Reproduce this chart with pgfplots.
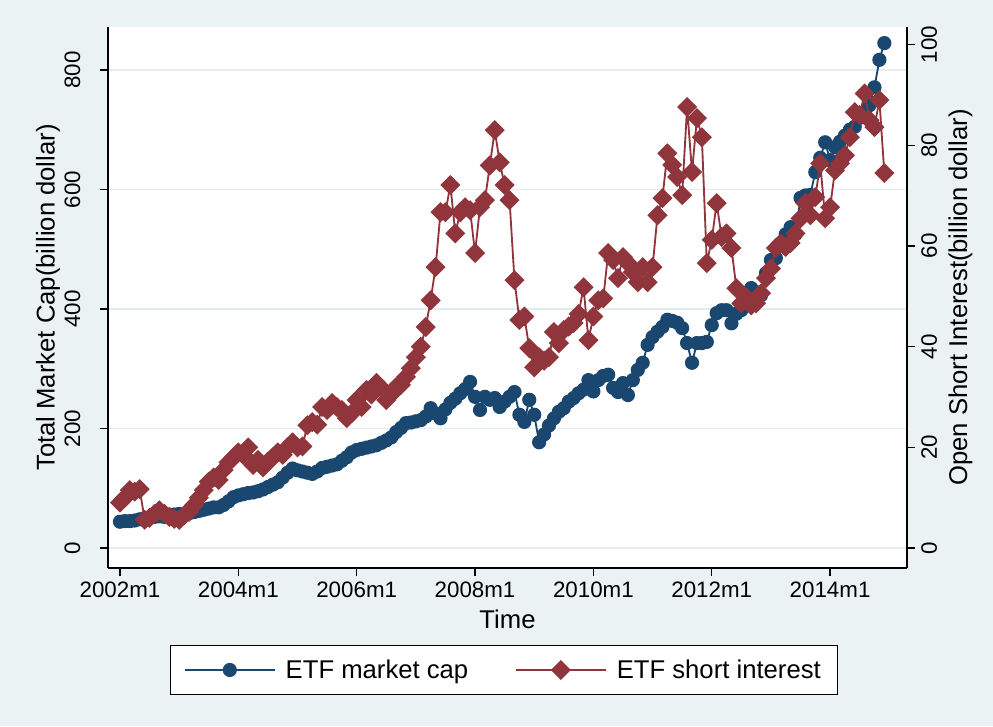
\documentclass[border=0pt]{standalone}
\usepackage{pgfplots}
\pgfplotsset{compat=1.18}
\usepackage{pgfplotstable}
\usepackage{fontspec}
\setmainfont{Liberation Sans}
\definecolor{bgc}{HTML}{EAF2F3}
\definecolor{gridc}{HTML}{E3EDEF}
\definecolor{navy}{HTML}{1A476F}
\definecolor{maroon}{HTML}{90353B}
\newcommand\ticksize{\fontsize{13.4}{15}\selectfont}
\newcommand\titlesize{\fontsize{15.4}{18}\selectfont}

\pgfplotstableread{
m v
0 44
1 45
2 45
3 46
4 48
5 50
6 50
7 52
8 53
9 52
10 55
11 56
12 57
13 56
14 58
15 60
16 62
17 64
18 66
19 68
20 68
21 72
22 78
23 85
24 88
25 90
26 92
27 93
28 95
29 98
30 102
31 106
32 110
33 118
34 126
35 133
36 130
37 128
38 126
39 124
40 128
41 134
42 136
43 138
44 140
45 146
46 152
47 160
48 164
49 166
50 168
51 170
52 172
53 176
54 180
55 185
56 194
57 201
58 209
59 210
60 212
61 214
62 220
63 234
64 225
65 217
66 232
67 243
68 250
69 259
70 266
71 278
72 253
73 231
74 253
75 248
76 251
77 236
78 245
79 253
80 261
81 223
82 211
83 248
84 223
85 177
86 190
87 205
88 217
89 228
90 234
91 245
92 251
93 259
94 265
95 281
96 262
97 281
98 288
99 290
100 268
101 261
102 276
103 256
104 281
105 298
106 310
107 340
108 353
109 362
110 370
111 382
112 380
113 377
114 368
115 343
116 310
117 343
118 343
119 345
120 373
121 393
122 398
123 398
124 376
125 392
126 398
127 420
128 435
129 428
130 423
131 460
132 482
133 485
134 510
135 525
136 537
137 525
138 586
139 590
140 591
141 629
142 653
143 679
144 649
145 671
146 680
147 690
148 700
149 705
150 720
151 730
152 741
153 771
154 817
155 845
}\mcap

\pgfplotstableread{
m v
0 9
1 10
2 11.5
3 11.2
4 11.7
5 5.6
6 6
7 6.8
8 7.5
9 6.8
10 6.2
11 5.8
12 5.6
13 6.5
14 7.2
15 8.5
16 10
17 11.5
18 13.2
19 14
20 13.5
21 15.5
22 17
23 18
24 19
25 18.5
26 20
27 16.5
28 17.5
29 16
30 17.2
31 18
32 19
33 18.5
34 20
35 21
36 20
37 20.2
38 24.4
39 25
40 24.5
41 28
42 27.4
43 28.8
44 28
45 27.4
46 25.8
47 26.8
48 29.4
49 28
50 31.4
51 30.5
52 32.8
53 31.8
54 29.4
55 30.5
56 32
57 32.4
58 34
59 35.7
60 37.9
61 40
62 43.9
63 49.2
64 55.8
65 66.7
66 66.7
67 72.1
68 62.5
69 66.7
70 67.7
71 67.1
72 58.6
73 67.7
74 69.1
75 76
76 83
77 76.6
78 72.1
79 69.1
80 53.2
81 45.3
82 46
83 39.7
84 35.9
85 37.9
86 37.2
87 37.9
88 42.9
89 40.7
90 43.3
91 44
92 44.7
93 46.5
94 51.8
95 41.3
96 46
97 49.2
98 49.6
99 58.6
100 57.2
101 53.6
102 57.8
103 56.6
104 54.8
105 52.8
106 55.8
107 52.8
108 55.8
109 66.1
110 69.5
111 78.4
112 76.1
113 73.7
114 70.1
115 87.6
116 74.7
117 85.4
118 81.6
119 56.6
120 61.2
121 68.5
122 61.8
123 62.5
124 59.6
125 51.6
126 48.6
127 49.8
128 48.2
129 48.6
130 50.6
131 53.6
132 55.5
133 59.6
134 60.5
135 59.8
136 60.6
137 62.5
138 65.5
139 68.5
140 66.1
141 69.7
142 76.4
143 65.5
144 67.7
145 75
146 76.4
147 78
148 81.6
149 86.6
150 86
151 90.3
152 85
153 83.6
154 89
155 74.5
}\sint

\begin{document}
\begin{tikzpicture}
\fill[bgc] (0,0) rectangle (595.8pt,435.6pt);
\useasboundingbox (0,0) rectangle (595.8pt,435.6pt);
\pgfplotsset{
  common/.style={
    at={(64.8pt,94.8pt)}, anchor=south west,
    scale only axis, width=479.4pt, height=324.6pt,
    xmin=-2.43, xmax=159.6,
    axis line style={-, black, line width=0.8pt},
    tick align=outside, major tick length=5pt,
    tick style={black, line width=0.8pt},
    tick label style={font=\ticksize},
    label style={font=\titlesize},
    /pgf/number format/assume math mode=true,
    /pgf/number format/fixed,
  },
}
\begin{axis}[common,
  ymin=-33.47, ymax=871.97,
  axis x line*=bottom, axis y line*=left,
  xtick={0,24,48,72,96,120,144},
  xticklabels={2002m1,2004m1,2006m1,2008m1,2010m1,2012m1,2014m1},
  ytick={0,200,400,600,800},
  ymajorgrids, grid style={gridc, line width=1pt},
  axis background/.style={fill=white},
  yticklabel style={rotate=90, anchor=south},
  yticklabel shift=8pt,
  ylabel shift=-4pt,
  xlabel={Time}, ylabel={Total Market Cap(billion dollar)},
]
\addplot[navy, line width=1.1pt, mark=*, mark size=3.7pt, mark options={fill=navy, draw=navy}] table[x=m, y=v] {\mcap};
\end{axis}
\begin{axis}[common,
  ymin=-3.97, ymax=103.5,
  axis y line*=right, axis x line=none,
  ytick={0,20,40,60,80,100},
  yticklabel style={rotate=90, anchor=north},
  yticklabel shift=0pt,
  ylabel shift=0pt,
  ylabel={Open Short Interest(billion dollar)},
  legend columns=2,
  legend style={at={(0.4956,-0.1885)}, anchor=center, draw=black, line width=0.6pt,
    fill=white, font=\titlesize, inner xsep=8pt, inner ysep=6.5pt,
    /tikz/every odd column/.append style={column sep=4pt},
    /tikz/every even column/.append style={column sep=26pt}},
  legend image code/.code={\draw[mark repeat=2, mark phase=2] plot coordinates {(0pt,0pt) (27pt,0pt) (54pt,0pt)};},
]
\addlegendimage{navy, line width=1.1pt, mark=*, mark size=3.7pt, mark options={fill=navy, draw=navy}}
\addlegendentry{ETF market cap}
\addplot[maroon, line width=1.1pt, mark=square*, mark size=3.7pt, mark options={fill=maroon, draw=maroon, rotate=45}] table[x=m, y=v] {\sint};
\addlegendentry{ETF short interest}
\end{axis}
\end{tikzpicture}
\end{document}
